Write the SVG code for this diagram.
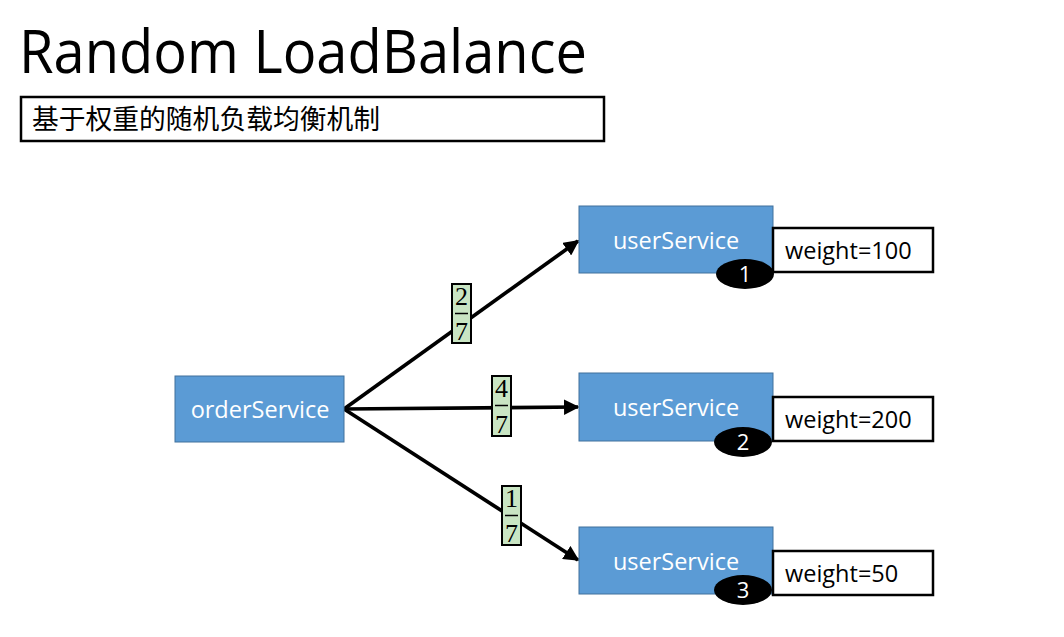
<svg xmlns="http://www.w3.org/2000/svg" width="1064" height="637" viewBox="0 0 1064 637">
  <style>
    .title { font-family: "Open Sans", "Liberation Sans", sans-serif; font-size: 60px; fill: #000; }
    .sub { font-family: "Noto Sans CJK SC", sans-serif; font-size: 27px; fill: #000; }
    .svc { fill: #5B9BD5; stroke: #41719C; stroke-width: 1; }
    .svc-label { font-family: "Open Sans", "Liberation Sans", sans-serif; font-size: 23.5px; fill: #fff; text-anchor: middle; }
    .wbox { fill: #fff; stroke: #000; stroke-width: 2.5; }
    .wlabel { font-family: "Open Sans", "Liberation Sans", sans-serif; font-size: 23.5px; fill: #000; }
    .badge { fill: #000; }
    .badge-label { font-family: "Open Sans", "Liberation Sans", sans-serif; font-size: 22px; fill: #fff; text-anchor: middle; }
    .edge { stroke: #000; stroke-width: 3.7; fill: none; }
    .frac { fill: #C9E5C3; stroke: #000; stroke-width: 2; }
    .frac-num { font-family: "Liberation Serif", serif; font-size: 26px; fill: #000; text-anchor: middle; }
    .frac-bar { stroke: #000; stroke-width: 1.5; }
  </style>
  <defs>
    <marker id="arrow" viewBox="0 0 10 10" refX="9" refY="5" markerWidth="4.2" markerHeight="4.2" orient="auto" markerUnits="strokeWidth">
      <path d="M0,0 L10,5 L0,10 z" fill="#000"/>
    </marker>
  </defs>

  <rect width="1064" height="637" fill="#fff"/>

  <!-- heading -->
  <text class="title" x="19" y="73" textLength="568" lengthAdjust="spacingAndGlyphs">Random LoadBalance</text>
  <g id="subtitle">
    <rect x="21" y="97" width="583" height="44" fill="#fff" stroke="#000" stroke-width="2.5"/>
    <text class="sub" x="32" y="129" textLength="348" lengthAdjust="spacingAndGlyphs">基于权重的随机负载均衡机制</text>
  </g>

  <!-- connectors -->
  <g id="connectors">
    <line class="edge" x1="344" y1="409" x2="578" y2="241" marker-end="url(#arrow)"/>
    <line class="edge" x1="344" y1="409" x2="578" y2="407" marker-end="url(#arrow)"/>
    <line class="edge" x1="344" y1="409" x2="578" y2="560" marker-end="url(#arrow)"/>
  </g>

  <!-- probability labels -->
  <g id="prob-1">
    <rect class="frac" x="452" y="284" width="19" height="59"/>
    <text class="frac-num" x="461.5" y="305">2</text>
    <line class="frac-bar" x1="455" y1="313.5" x2="468" y2="313.5"/>
    <text class="frac-num" x="461.5" y="340">7</text>
  </g>
  <g id="prob-2">
    <rect class="frac" x="492" y="376" width="19" height="60"/>
    <text class="frac-num" x="501.5" y="397">4</text>
    <line class="frac-bar" x1="495" y1="405.5" x2="508" y2="405.5"/>
    <text class="frac-num" x="501.5" y="433">7</text>
  </g>
  <g id="prob-3">
    <rect class="frac" x="502" y="486" width="19" height="59"/>
    <text class="frac-num" x="511.5" y="507">1</text>
    <line class="frac-bar" x1="505" y1="515.5" x2="518" y2="515.5"/>
    <text class="frac-num" x="511.5" y="542">7</text>
  </g>

  <!-- caller -->
  <g id="orderService">
    <rect class="svc" x="175" y="376" width="169" height="66"/>
    <text class="svc-label" x="260" y="418">orderService</text>
  </g>

  <!-- providers -->
  <g id="userService-1">
    <rect class="svc" x="579" y="206" width="194" height="67"/>
    <text class="svc-label" x="676" y="249">userService</text>
  </g>
  <g id="weight-1">
    <rect class="wbox" x="773" y="228" width="160" height="44"/>
    <text class="wlabel" x="785" y="259">weight=100</text>
  </g>
  <g id="badge-1">
    <ellipse class="badge" cx="745" cy="274" rx="29" ry="15"/>
    <text class="badge-label" x="745" y="282">1</text>
  </g>

  <g id="userService-2">
    <rect class="svc" x="579" y="373" width="194" height="68"/>
    <text class="svc-label" x="676" y="416">userService</text>
  </g>
  <g id="weight-2">
    <rect class="wbox" x="773" y="397" width="160" height="44"/>
    <text class="wlabel" x="785" y="428">weight=200</text>
  </g>
  <g id="badge-2">
    <ellipse class="badge" cx="743" cy="442" rx="29" ry="15"/>
    <text class="badge-label" x="743" y="450">2</text>
  </g>

  <g id="userService-3">
    <rect class="svc" x="579" y="527" width="194" height="67"/>
    <text class="svc-label" x="676" y="570">userService</text>
  </g>
  <g id="weight-3">
    <rect class="wbox" x="773" y="551" width="160" height="44"/>
    <text class="wlabel" x="785" y="582">weight=50</text>
  </g>
  <g id="badge-3">
    <ellipse class="badge" cx="743" cy="590" rx="29" ry="15"/>
    <text class="badge-label" x="743" y="598">3</text>
  </g>
</svg>
